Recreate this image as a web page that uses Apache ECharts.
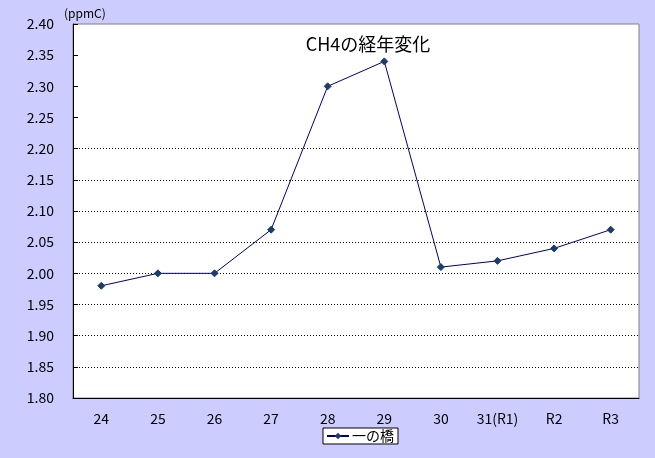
<!DOCTYPE html>
<html>
<head>
<meta charset="utf-8">
<script src="https://cdn.jsdelivr.net/npm/echarts@6/dist/echarts.min.js"></script>
<style>
  html, body { margin: 0; padding: 0; background: #ccccff; }
  #chart { width: 655px; height: 458px; }
</style>
</head>
<body>
<div id="chart"></div>
<script>
// years (Heisei / Reiwa)
const categories = ['24', '25', '26', '27', '28', '29', '30', '31(R1)', 'R2', 'R3']
const ichinohashi = [1.98, 2.00, 2.00, 2.07, 2.30, 2.34, 2.01, 2.02, 2.04, 2.07]
// dotted gridlines only appear from 2.20 downward in the original
const gridValues = [1.85, 1.90, 1.95, 2.00, 2.05, 2.10, 2.15, 2.20]

const font = '"Noto Sans CJK JP", sans-serif'

let myChart = echarts.init(document.getElementById('chart'))

let option
option = {
  backgroundColor: '#ccccff',
  animation: false,
  title: {
    text: 'CH4の経年変化',
    left: 363,
    top: 30,
    textAlign: 'center',
    textStyle: { fontFamily: font, fontSize: 18, fontWeight: 'normal', color: '#000' }
  },
  graphic: [{
    type: 'text',
    left: 64,
    top: 7,
    style: { text: '(ppmC)', font: '12px ' + font, fill: '#000' }
  }],
  legend: {
    left: 323,
    top: 428,
    backgroundColor: '#fff',
    borderColor: '#000',
    borderWidth: 1,
    borderRadius: 0,
    padding: [1, 4, 1, 3],
    itemWidth: 22,
    itemHeight: 8,
    itemGap: 4,
    textStyle: { fontFamily: font, fontSize: 14, color: '#000', padding: [0, 0, 0, -2] },
    data: ['一の橋']
  },
  grid: {
    left: 73,
    top: 24,
    right: 16,
    bottom: 60,
    show: true,
    backgroundColor: '#fff',
    borderColor: '#808080',
    borderWidth: 1
  },
  xAxis: {
    type: 'category',
    data: categories,
    boundaryGap: true,
    axisLine: { lineStyle: { color: '#000', width: 1 } },
    axisTick: { inside: true, length: 5, lineStyle: { color: '#000' } },
    axisLabel: { fontFamily: font, fontSize: 14, color: '#000', margin: 14 },
    splitLine: { show: false }
  },
  yAxis: {
    type: 'value',
    min: 1.80,
    max: 2.40,
    interval: 0.05,
    axisLine: { show: true, lineStyle: { color: '#000', width: 1 } },
    axisTick: { show: true, inside: true, length: 5, lineStyle: { color: '#000' } },
    axisLabel: {
      fontFamily: font, fontSize: 14, color: '#000', margin: 19,
      formatter: v => v.toFixed(2)
    },
    splitLine: { show: false }
  },
  series: [
    {
      name: '一の橋',
      type: 'line',
      data: ichinohashi,
      symbol: 'diamond',
      symbolSize: 7,
      lineStyle: { color: '#000080', width: 1 },
      itemStyle: { color: '#1a3d6b', borderColor: '#1a3d6b' },
      z: 5,
      markLine: {
        silent: true,
        symbol: 'none',
        label: { show: false },
        lineStyle: { color: '#000', width: 1, type: [1, 2] },
        data: gridValues.map(v => ({ yAxis: v }))
      }
    }
  ]
}
myChart.setOption(option)
</script>
</body>
</html>
